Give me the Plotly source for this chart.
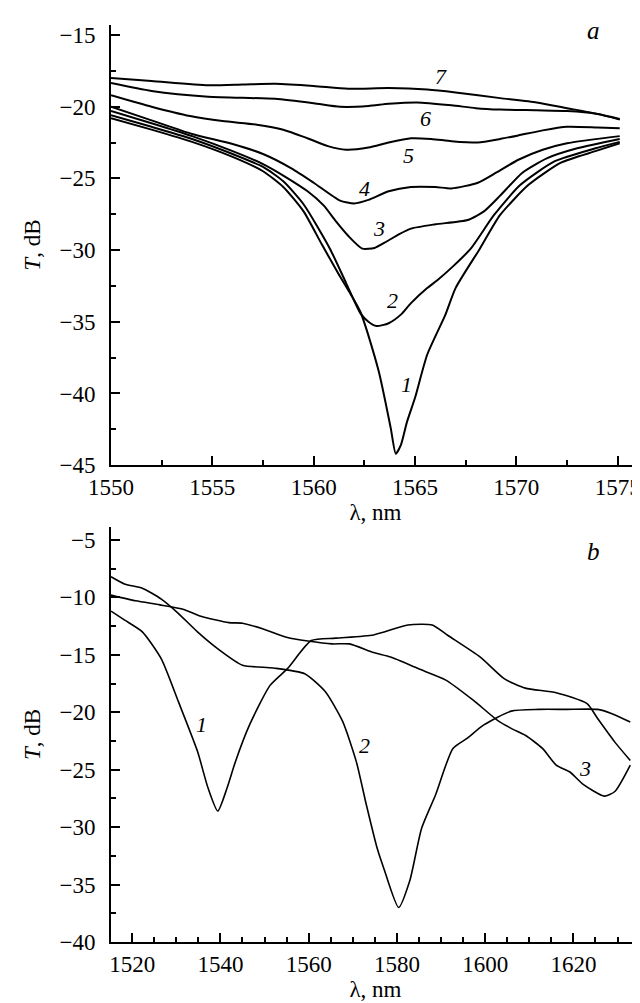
import plotly.graph_objects as go

# ---------- panel a ----------
wl_a1 = [1550, 1552, 1554, 1556, 1557.5, 1558.5, 1559.5, 1560.4, 1561.2, 1562.3, 1563.2, 1563.8, 1564.05,
         1564.3, 1564.6, 1565.0, 1565.6, 1566.5, 1567.0, 1568.2, 1569.2, 1570.6, 1572.2, 1573.9, 1575.1]
t_a1 = [-20.8, -21.6, -22.45, -23.5, -24.5, -25.6, -27.3, -29.6, -31.6, -34.3, -38.4, -42.4, -44.2,
        -43.6, -42.0, -40.3, -37.3, -34.5, -32.65, -29.9, -27.55, -25.45, -23.9, -23.1, -22.55]

wl_a2 = [1550, 1552, 1554, 1556, 1557.5, 1558.5, 1559.5, 1560.8, 1561.6, 1562.3, 1562.7, 1563.1, 1563.7,
         1564.3, 1564.8, 1565.6, 1566.1, 1566.9, 1567.75, 1568.9, 1570.2, 1571.9, 1573.9, 1575.1]
t_a2 = [-20.6, -21.4, -22.25, -23.3, -24.2, -25.2, -26.8, -29.9, -32.3, -34.4, -35.0, -35.3, -35.1,
        -34.5, -33.7, -32.65, -32.1, -31.1, -29.9, -27.55, -25.45, -23.8, -22.9, -22.45]

wl_a3 = [1550, 1552, 1554, 1556, 1557.5, 1558.5, 1559.7, 1560.5, 1561.1, 1561.7, 1562.4, 1563.0, 1563.6,
         1564.2, 1564.8, 1566.0, 1567.6, 1568.4, 1569.2, 1570.3, 1571.5, 1573.0, 1575.1]
t_a3 = [-20.3, -21.15, -22.05, -23.1, -24.0, -24.8, -25.9, -26.9, -28.0, -29.0, -29.9, -29.85, -29.4,
        -28.9, -28.5, -28.2, -27.9, -27.3, -26.2, -24.6, -23.6, -22.9, -22.25]

wl_a4 = [1550, 1552, 1554, 1556, 1557.5, 1558.9, 1560, 1561.3, 1562.0, 1562.7, 1563.7, 1564.8, 1566.0,
         1566.8, 1568.1, 1569.0, 1570.1, 1571.3, 1572.5, 1575.1]
t_a4 = [-20.0, -20.95, -21.9, -22.6, -23.3, -24.3, -25.3, -26.55, -26.75, -26.5, -25.9, -25.6, -25.6,
        -25.7, -25.3, -24.6, -23.7, -23.0, -22.55, -22.05]

wl_a5 = [1550, 1552, 1553.9, 1555.5, 1557.2, 1558.5, 1559.7, 1560.7, 1561.6, 1562.7, 1563.7, 1564.8,
         1565.8, 1566.8, 1568.1, 1569.2, 1570.1, 1571.3, 1572.5, 1574, 1575.1]
t_a5 = [-19.2, -20.0, -20.65, -21.0, -21.25, -21.6, -22.2, -22.75, -23.0, -22.85, -22.5, -22.2,
        -22.25, -22.4, -22.5, -22.25, -22.0, -21.65, -21.4, -21.45, -21.5]

wl_a6 = [1550, 1552, 1554.8, 1558.1, 1560, 1561.3, 1562.7, 1563.7, 1565.1, 1566.8, 1568, 1569.2,
         1571, 1572.5, 1574, 1575.1]
t_a6 = [-18.35, -18.9, -19.3, -19.45, -19.75, -20.0, -19.95, -19.8, -19.7, -19.9, -20.1, -20.2,
        -20.25, -20.3, -20.5, -20.85]

wl_a7 = [1550, 1552, 1554.8, 1556.5, 1558.1, 1560, 1561.7, 1563.7, 1565.6, 1567, 1569.2, 1571,
         1572.5, 1574, 1575.1]
t_a7 = [-18.0, -18.2, -18.5, -18.45, -18.4, -18.55, -18.75, -18.7, -18.8, -19.0, -19.4, -19.7,
        -20.1, -20.5, -20.9]

labels_a = ["1", "2", "3", "4", "5", "6", "7"]
label_a_wl = [1564.6, 1563.9, 1563.2, 1562.5, 1564.7, 1565.5, 1566.3]
label_a_t = [-39.4, -33.5, -28.5, -25.7, -23.4, -20.8, -17.9]

# ---------- panel b ----------
wl_b1 = [1515.2, 1518.4, 1522.3, 1526.6, 1530.5, 1534.8, 1537.2, 1539.4, 1541.5, 1543.4, 1546.6,
         1551.25, 1555.2, 1560.6, 1566.1, 1574.7, 1582.5, 1588.0, 1591.5, 1598.9, 1604.4, 1609.1,
         1616.1, 1623.1, 1625.5, 1629.4, 1632.9]
t_b1 = [-11.2, -12.0, -13.0, -15.35, -19.1, -23.4, -26.6, -28.6, -26.6, -24.3, -21.1,
        -17.66, -16.2, -13.76, -13.55, -13.27, -12.4, -12.4, -13.3, -15.2, -17.1, -17.9,
        -18.3, -19.25, -20.55, -22.6, -24.2]

wl_b2 = [1515.2, 1518.4, 1522.3, 1526.6, 1530.2, 1534.8, 1539.5, 1545.0, 1552.0, 1559.1, 1563.75,
         1567.7, 1570.8, 1573.1, 1575.5, 1577.0, 1580.4, 1582.9, 1585.6, 1588.75, 1592.7, 1595.8,
         1599.7, 1605.9, 1612.2, 1618.4, 1625.5, 1628.6, 1632.9]
t_b2 = [-8.2, -8.85, -9.2, -10.15, -11.3, -13.0, -14.5, -15.9, -16.15, -16.65, -18.2,
        -20.8, -24.3, -28.1, -31.8, -33.55, -37.0, -34.7, -30.1, -27.2, -23.15, -22.3,
        -21.1, -19.9, -19.75, -19.75, -19.75, -20.1, -20.85]

wl_b3 = [1515.2, 1520.8, 1526.25, 1531.7, 1535.6, 1541.9, 1545.0, 1549.7, 1555.2, 1559.8, 1565.3,
         1569.2, 1574.7, 1578.6, 1584.8, 1591.1, 1597.3, 1602.8, 1605.9, 1609.1, 1613.0, 1616.1,
         1619.2, 1622.3, 1627.0, 1629.4, 1632.9]
t_b3 = [-9.8, -10.3, -10.65, -11.05, -11.65, -12.2, -12.25, -12.75, -13.5, -13.8, -14.05,
        -14.05, -14.8, -15.2, -16.2, -17.2, -18.95, -20.7, -21.4, -22.0, -23.15, -24.6,
        -25.2, -26.3, -27.3, -26.9, -24.6]

labels_b = ["1", "2", "3"]
label_b_wl = [1535.8, 1572.7, 1622.7]
label_b_t = [-21.1, -22.9, -24.9]

FONT = "Liberation Serif"
TICK_SIZE = 23
fig = go.Figure()

for wl, t in [(wl_a1, t_a1), (wl_a2, t_a2), (wl_a3, t_a3), (wl_a4, t_a4),
              (wl_a5, t_a5), (wl_a6, t_a6), (wl_a7, t_a7)]:
    fig.add_trace(go.Scatter(x=wl, y=t, mode="lines", xaxis="x", yaxis="y",
                             line=dict(color="black", width=2.0, shape="spline", smoothing=0.6),
                             showlegend=False, hoverinfo="skip"))

for wl, t in [(wl_b1, t_b1), (wl_b2, t_b2), (wl_b3, t_b3)]:
    fig.add_trace(go.Scatter(x=wl, y=t, mode="lines", xaxis="x2", yaxis="y2",
                             line=dict(color="black", width=1.6, shape="spline", smoothing=0.6),
                             showlegend=False, hoverinfo="skip"))

ann = []
for s, x, y in zip(labels_a, label_a_wl, label_a_t):
    ann.append(dict(x=x, y=y, xref="x", yref="y", text="<i>%s</i>" % s, showarrow=False,
                    font=dict(family=FONT, size=22, color="black")))
for s, x, y in zip(labels_b, label_b_wl, label_b_t):
    ann.append(dict(x=x, y=y, xref="x2", yref="y2", text="<i>%s</i>" % s, showarrow=False,
                    font=dict(family=FONT, size=22, color="black")))
ann.append(dict(x=1573.8, y=-14.65, xref="x", yref="y", text="<i>a</i>", showarrow=False,
                font=dict(family=FONT, size=25, color="black")))
ann.append(dict(x=1624.6, y=-6.0, xref="x2", yref="y2", text="<i>b</i>", showarrow=False,
                font=dict(family=FONT, size=25, color="black")))

fig.update_layout(
    width=640, height=1003,
    margin=dict(l=103, r=8, t=17, b=69),
    paper_bgcolor="white", plot_bgcolor="white",
    font=dict(family=FONT, size=TICK_SIZE, color="black"),
    annotations=ann,
    xaxis=dict(domain=[0, 1], range=[1550, 1576.1], anchor="y",
               tickvals=[1550, 1555, 1560, 1565, 1570, 1575],
               minor=dict(dtick=2.5, tick0=1550),
               title=dict(text="λ, nm", standoff=0)),
    yaxis=dict(domain=[0.520, 1.0], range=[-45, -14.3], anchor="x",
               tickvals=[-45, -40, -35, -30, -25, -20, -15],
               minor=dict(dtick=2.5, tick0=-45),
               title=dict(text="<i>T</i>, dB", standoff=12)),
    xaxis2=dict(domain=[0, 1], range=[1515.2, 1635.1], anchor="y2",
                tickvals=[1520, 1540, 1560, 1580, 1600, 1620],
                minor=dict(dtick=5, tick0=1520),
                title=dict(text="λ, nm", standoff=0)),
    yaxis2=dict(domain=[0.0, 0.4526], range=[-40, -3.87], anchor="x2",
                tickvals=[-40, -35, -30, -25, -20, -15, -10, -5],
                minor=dict(dtick=2.5, tick0=-40),
                title=dict(text="<i>T</i>, dB", standoff=12)),
)

common = dict(showline=True, linecolor="black", linewidth=2, mirror=False,
              ticks="inside", ticklen=9, tickwidth=1.5, tickcolor="black",
              showgrid=False, zeroline=False,
              tickfont=dict(family=FONT, size=TICK_SIZE, color="black"))
fig.update_xaxes(**common, ticklabelstandoff=0)
fig.update_yaxes(**common, ticklabelstandoff=9)
fig.update_xaxes(minor_ticks="inside", minor_ticklen=5, minor_tickwidth=1.5, minor_tickcolor="black", minor_showgrid=False,
                 title_font=dict(family=FONT, size=23, color="black"))
fig.update_yaxes(minor_ticks="inside", minor_ticklen=5, minor_tickwidth=1.5, minor_tickcolor="black", minor_showgrid=False,
                 title_font=dict(family=FONT, size=23, color="black"))

fig.write_html("out.html")
